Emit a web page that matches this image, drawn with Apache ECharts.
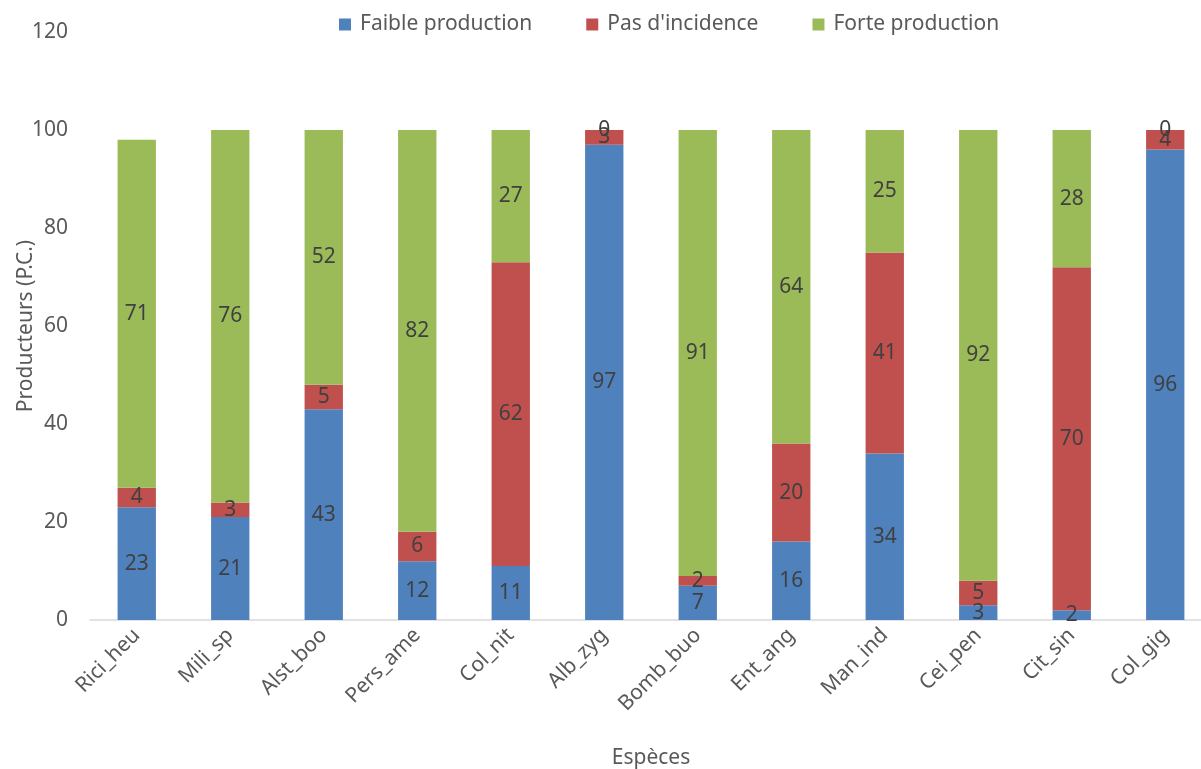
<!DOCTYPE html>
<html>
<head>
<meta charset="utf-8">
<script src="https://cdn.jsdelivr.net/npm/echarts@6/dist/echarts.min.js"></script>
<style>
  html, body { margin: 0; padding: 0; background: #fff; }
  #chart { width: 1201px; height: 769px; }
</style>
</head>
<body>
<div id="chart"></div>
<script>
// Species and the share of producers (%) in each response class
const categories = ['Rici_heu', 'Mili_sp', 'Alst_boo', 'Pers_ame', 'Col_nit', 'Alb_zyg',
                    'Bomb_buo', 'Ent_ang', 'Man_ind', 'Cei_pen', 'Cit_sin', 'Col_gig'];
const faibleProduction = [23, 21, 43, 12, 11, 97, 7, 16, 34, 3, 2, 96];
const pasIncidence     = [4, 3, 5, 6, 62, 3, 2, 20, 41, 5, 70, 4];
const forteProduction  = [71, 76, 52, 82, 27, 0, 91, 64, 25, 92, 28, 0];
const yTicks = [0, 20, 40, 60, 80, 100, 120];

const FONT = 'Noto Sans';
const FS = 21;
const chart = echarts.init(document.getElementById('chart'));

function stackSeries(name, data, color) {
  return {
    name: name,
    type: 'bar',
    stack: 'total',
    data: data,
    barWidth: '41%',
    itemStyle: { color: color },
    label: {
      show: true,
      position: 'inside',
      color: '#404040',
      fontFamily: FONT,
      fontSize: FS
    },
    emphasis: { disabled: true }
  };
}

chart.setOption({
  animation: false,
  backgroundColor: '#ffffff',
  textStyle: { fontFamily: FONT },
  legend: {
    top: 9,
    left: 334,
    itemWidth: 12,
    itemHeight: 12,
    itemGap: 54,
    icon: 'rect',
    textStyle: { color: '#595959', fontSize: FS, fontFamily: FONT, padding: [0, 0, 0, 4] },
    data: ['Faible production', "Pas d'incidence", 'Forte production']
  },
  grid: { left: 90, top: 32, width: 1122, height: 588, containLabel: false, outerBoundsMode: 'none' },
  xAxis: {
    type: 'category',
    data: categories,
    name: 'Espèces',
    nameLocation: 'middle',
    nameGap: 128,
    nameTextStyle: { color: '#595959', fontSize: FS, fontFamily: FONT },
    axisLine: { lineStyle: { color: '#d9d9d9', width: 1.5 } },
    axisTick: { show: false },
    axisLabel: { rotate: 45, color: '#595959', fontSize: FS, fontFamily: FONT, margin: 12, interval: 0 }
  },
  yAxis: {
    type: 'value',
    min: yTicks[0],
    max: yTicks[yTicks.length - 1],
    interval: yTicks[1] - yTicks[0],
    name: 'Producteurs (P.C.)',
    nameLocation: 'middle',
    nameGap: 53,
    nameMoveOverlap: false,
    nameTextStyle: { color: '#595959', fontSize: FS, fontFamily: FONT },
    axisLine: { show: false },
    axisTick: { show: false },
    splitLine: { show: false },
    axisLabel: { color: '#595959', fontSize: FS, fontFamily: FONT, margin: 22 }
  },
  series: [
    stackSeries('Faible production', faibleProduction, '#4F81BD'),
    stackSeries("Pas d'incidence", pasIncidence, '#C0504D'),
    stackSeries('Forte production', forteProduction, '#9BBB59')
  ]
});
</script>
</body>
</html>
